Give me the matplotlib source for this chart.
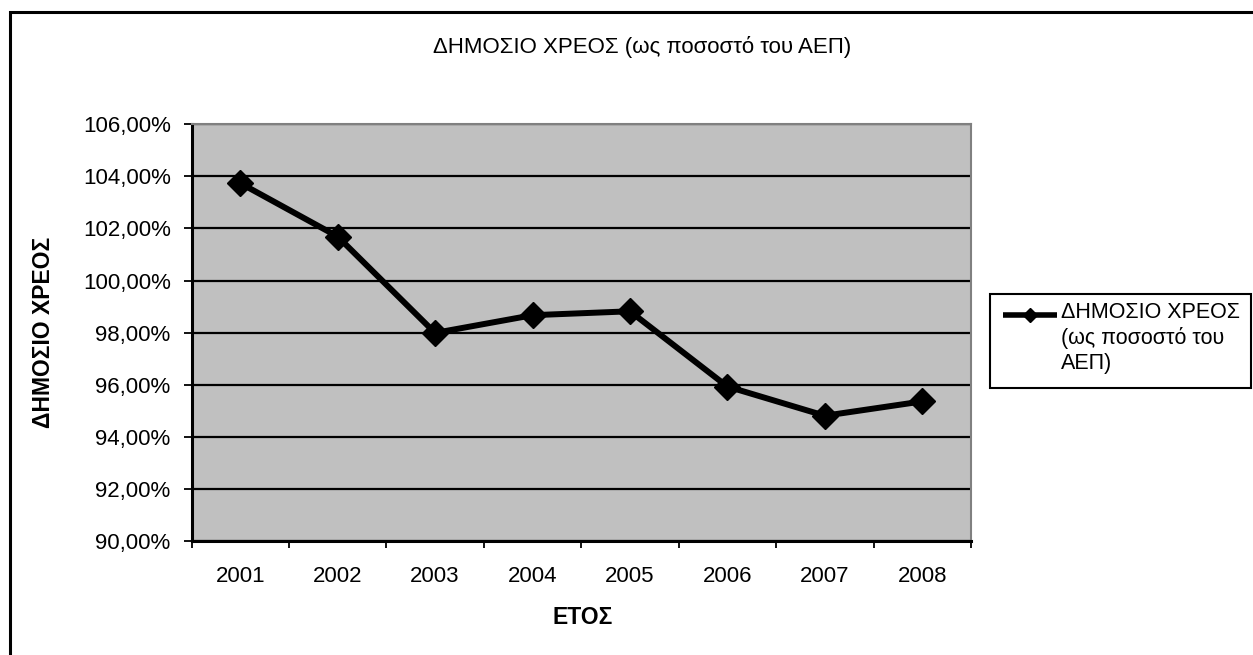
import matplotlib
matplotlib.use("Agg")
from matplotlib import pyplot as plt
from matplotlib import patches as patches
import matplotlib.lines as mlines
from matplotlib.ticker import FuncFormatter, FixedLocator

plt.rcParams['font.family'] = ['Liberation Sans', 'DejaVu Sans']

years = ['2001', '2002', '2003', '2004', '2005', '2006', '2007', '2008']
debt = [103.74, 101.69, 97.99, 98.67, 98.82, 95.93, 94.81, 95.36]

title = 'ΔΗΜΟΣΙΟ ΧΡΕΟΣ (ως ποσοστό του ΑΕΠ)'
series_label = 'ΔΗΜΟΣΙΟ ΧΡΕΟΣ\n(ως ποσοστό του\nΑΕΠ)'
ylabel = 'ΔΗΜΟΣΙΟ ΧΡΕΟΣ'
xlabel = 'ΕΤΟΣ'

W, H = 1253, 655
fs = 16
fig = plt.figure(figsize=(W / 100, H / 100), dpi=100)

def fx(px):
    return px / W

def fy(py):
    return 1 - py / H

# outer chart border (runs off the right / bottom edge)
fig.add_artist(patches.Rectangle((fx(10), -0.05), 1.2, fy(12) + 0.05,
                                 transform=fig.transFigure, fill=False,
                                 edgecolor='black', linewidth=2.2))

ax = fig.add_axes([fx(191.5), fy(541), fx(971 - 191.5), (541 - 124.3) / H])
ax.set_facecolor('#c0c0c0')

x = list(range(len(years)))
ax.plot(x, debt, color='black', linewidth=4.3, marker='D', markersize=13,
        markeredgewidth=1, zorder=3)

ax.set_xlim(-0.5, len(years) - 0.5)
ax.set_ylim(90, 106)
ax.set_yticks(range(90, 107, 2))
ax.yaxis.set_major_formatter(FuncFormatter(lambda v, p: f'{v:.2f}%'.replace('.', ',')))
ax.grid(axis='y', color='black', linewidth=1.6)
ax.set_axisbelow(True)

# x ticks between categories, labels centred
ax.xaxis.set_major_locator(FixedLocator([i - 0.5 for i in range(len(years) + 1)]))
ax.xaxis.set_minor_locator(FixedLocator(x))
ax.set_xticklabels([])
ax.set_xticklabels(years, minor=True)
ax.tick_params(axis='x', which='major', length=5, width=1.3, direction='out')
ax.tick_params(axis='x', which='minor', length=0, pad=18, labelsize=fs)
ax.tick_params(axis='y', length=6, width=1.3, pad=9, labelsize=fs)

for s in ['left', 'bottom']:
    ax.spines[s].set_linewidth(2.2)
    ax.spines[s].set_color('black')
for s in ['top', 'right']:
    ax.spines[s].set_linewidth(1.5)
    ax.spines[s].set_color('#808080')

fig.text(fx(642), fy(47), title, ha='center', va='center', fontsize=fs)
fig.text(fx(44), fy(332), ylabel, ha='center', va='center', rotation=90,
         fontsize=16.5, fontweight='bold')
fig.text(fx(583), fy(617), xlabel, ha='center', va='center',
         fontsize=16.5, fontweight='bold')

# legend box, handle on first text row like the original
fig.add_artist(patches.Rectangle((fx(990), fy(388)), fx(1251 - 990), (388 - 294) / H,
                                 transform=fig.transFigure, facecolor='white',
                                 edgecolor='black', linewidth=1.5))
fig.add_artist(mlines.Line2D([fx(1003), fx(1057)], [fy(315), fy(315)],
                             transform=fig.transFigure, color='black',
                             linewidth=4, solid_capstyle='butt'))
fig.add_artist(mlines.Line2D([fx(1030)], [fy(315)], transform=fig.transFigure,
                             color='black', marker='D', markersize=7, linestyle='None'))
fig.text(fx(1061), fy(302), series_label, ha='left', va='top', fontsize=15.5,
         linespacing=1.25)

fig.savefig('out.png', dpi=100)
